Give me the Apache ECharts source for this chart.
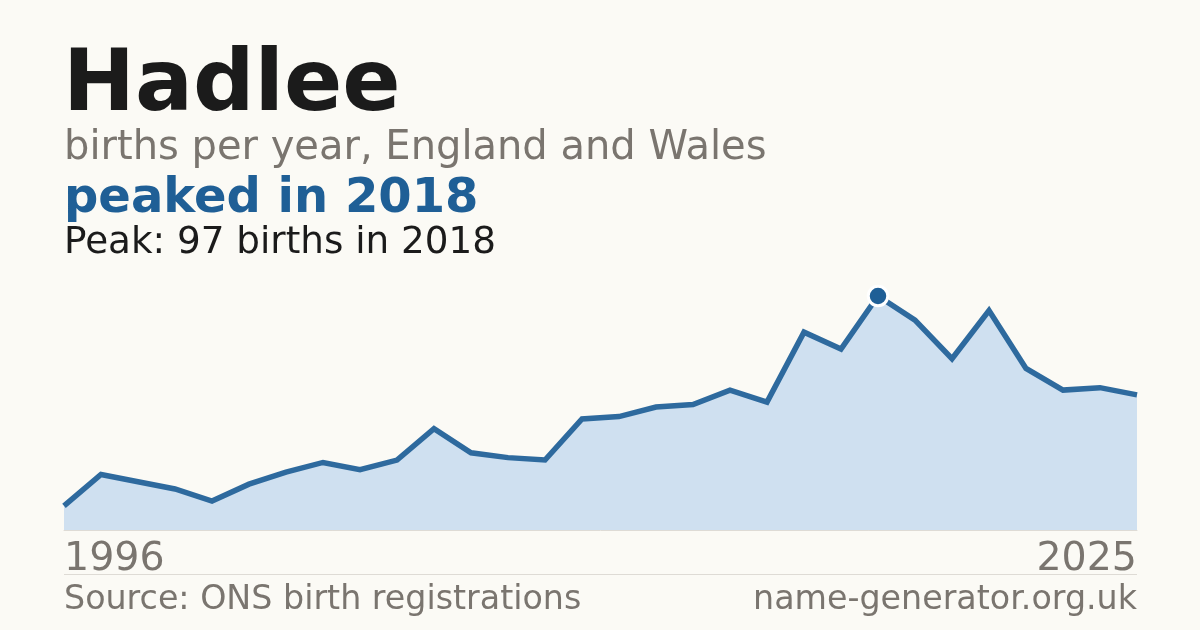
<!DOCTYPE html>
<html><head><meta charset="utf-8">
<script src="https://cdn.jsdelivr.net/npm/echarts@6/dist/echarts.min.js"></script>
<style>html,body{margin:0;padding:0;background:#fbfaf5}#c{width:1200px;height:630px}</style>
</head><body><div id="c"></div>
<script>
const years = [1996,1997,1998,1999,2000,2001,2002,2003,2004,2005,2006,2007,2008,2009,2010,2011,2012,2013,2014,2015,2016,2017,2018,2019,2020,2021,2022,2023,2024,2025];
const births = [10,23,20,17,12,19,24,28,25,29,42,32,30,29,46,47,51,52,58,53,82,75,97,87,71,91,67,58,59,56];
const peakYear = 2018;
const peakValue = 97;
const titleText = 'Hadlee';
const subtitleText = 'births per year, England and Wales';
const headlineText = 'peaked in 2018';
const peakText = 'Peak: 97 births in 2018';
const sourceText = 'Source: ONS birth registrations';
const siteText = 'name-generator.org.uk';

const F = 'DejaVu Sans';
const chart = echarts.init(document.getElementById('c'), null, {renderer:'canvas'});
const n = years.length;
chart.setOption({
  backgroundColor:'#fbfaf5',
  animation:false,
  grid:{left:64,right:63,top:296,bottom:100},
  xAxis:{type:'category',data:years.map(String),boundaryGap:false,
    axisLine:{show:true,lineStyle:{color:'#dedbd5',width:1}},axisTick:{show:false},splitLine:{show:false},
    axisLabel:{interval:(i)=>i===0||i===n-1,color:'#7a756f',fontFamily:F,fontSize:39.5,margin:10,
      alignMinLabel:'left',alignMaxLabel:'right',showMinLabel:true,showMaxLabel:true}},
  yAxis:{type:'value',min:0,max:peakValue,show:false},
  series:[{type:'line',data:births,symbol:'none',clip:false,
    lineStyle:{color:'#2e6a9e',width:5.5,join:'miter'},
    areaStyle:{color:'#cfe0f0',opacity:1},
    markPoint:{symbol:'circle',symbolSize:19.5,
      itemStyle:{color:'#1f5f96',borderColor:'#ffffff',borderWidth:3},
      label:{show:false},
      data:[{coord:[String(peakYear),peakValue]}]}
  }],
  graphic:[
    {type:'text',x:63,y:131,style:{text:titleText,font:'bold 86px "DejaVu Sans"',fill:'#1b1b1b',verticalAlign:'bottom'}},
    {type:'text',x:64,y:168.5,style:{text:subtitleText,font:'40px "DejaVu Sans"',fill:'#7a756f',verticalAlign:'bottom'}},
    {type:'text',x:64,y:223.5,style:{text:headlineText,font:'bold 48px "DejaVu Sans"',fill:'#1f5f96',verticalAlign:'bottom'}},
    {type:'text',x:64,y:262,style:{text:peakText,font:'37.3px "DejaVu Sans"',fill:'#1b1b1b',verticalAlign:'bottom'}},
    {type:'rect',shape:{x:64,y:574,width:1073,height:1},style:{fill:'#dedbd5'}},
    {type:'text',x:64,y:617,style:{text:sourceText,font:'33.3px "DejaVu Sans"',fill:'#7a756f',verticalAlign:'bottom'}},
    {type:'text',x:1137,y:617,style:{text:siteText,font:'33.3px "DejaVu Sans"',fill:'#7a756f',align:'right',verticalAlign:'bottom'}}
  ]
});
</script></body></html>
